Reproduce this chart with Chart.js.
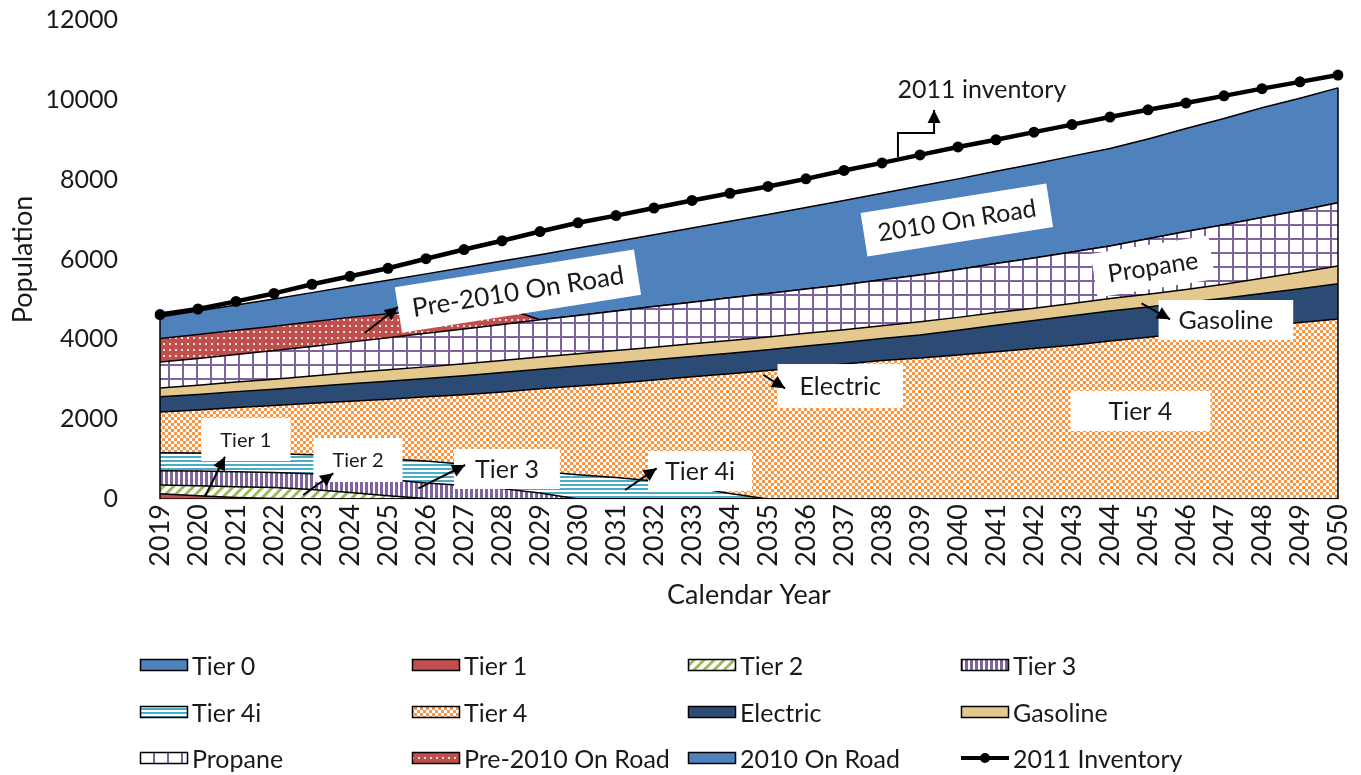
<!DOCTYPE html>
<html><head><meta charset="utf-8">
<script src="https://cdn.jsdelivr.net/npm/chart.js@4.4.1/dist/chart.umd.min.js"></script>
<style>
html,body{margin:0;padding:0;background:#fff;}
#wrap{position:relative;width:1361px;height:775px;overflow:hidden;}
#c{position:absolute;left:0;top:0;}
#legend{position:absolute;left:0;top:0;width:1361px;height:775px;pointer-events:none;font-family:Lato,"Noto Sans",sans-serif;font-size:25px;color:#1a1a1a;}
.item{position:absolute;display:flex;align-items:center;height:30px;white-space:nowrap;}
.item canvas{margin-right:3px;display:block;}
</style></head>
<body><div id="wrap"><canvas id="c" width="1361" height="775"></canvas><div id="legend"></div></div>
<script>
const years = ['2019','2020','2021','2022','2023','2024','2025','2026','2027','2028','2029','2030','2031','2032','2033','2034','2035','2036','2037','2038','2039','2040','2041','2042','2043','2044','2045','2046','2047','2048','2049','2050'];
const yTicks = [0,2000,4000,6000,8000,10000,12000];
const tier0 = [0,0,0,0,0,0,0,0,0,0,0,0,0,0,0,0,0,0,0,0,0,0,0,0,0,0,0,0,0,0,0,0];
const tier1 = [130,80,40,10,0,0,0,0,0,0,0,0,0,0,0,0,0,0,0,0,0,0,0,0,0,0,0,0,0,0,0,0];
const tier2 = [220,250,270,280,240,160,80,10,0,0,0,0,0,0,0,0,0,0,0,0,0,0,0,0,0,0,0,0,0,0,0,0];
const tier3 = [360,370,370,375,390,410,410,390,340,260,150,0,0,0,0,0,0,0,0,0,0,0,0,0,0,0,0,0,0,0,0,0];
const tier4i = [450,455,465,470,480,490,510,550,530,520,540,610,540,450,300,140,0,0,0,0,0,0,0,0,0,0,0,0,0,0,0,0];
const tier4 = [1020,1075,1145,1205,1290,1390,1500,1610,1740,1900,2070,2220,2360,2530,2760,3000,3220,3300,3380,3470,3530,3610,3690,3770,3850,3960,4050,4150,4240,4330,4420,4510];
const electric = [380,390,400,410,420,440,450,460,480,490,490,500,510,510,510,510,520,530,540,550,580,620,660,700,740,750,760,770,790,820,850,880];
const gasoline = [220,230,240,250,260,270,290,290,300,300,310,310,310,310,320,320,320,320,320,320,330,320,320,310,310,310,320,330,350,380,410,450];
const propane = [650,670,690,720,740,770,800,840,870,900,930,960,990,1020,1040,1070,1090,1110,1130,1150,1170,1200,1230,1260,1290,1320,1390,1450,1490,1520,1550,1580];
const pre2010OnRoad = [590,600,610,610,620,620,600,560,510,440,0,0,0,0,0,0,0,0,0,0,0,0,0,0,0,0,0,0,0,0,0,0];
const onRoad2010 = [540,590,630,680,730,780,840,930,1030,1150,1630,1690,1740,1800,1860,1920,1980,2040,2110,2170,2230,2270,2310,2350,2400,2440,2500,2580,2660,2750,2810,2880];
const inventory2011 = [4620,4760,4950,5150,5380,5580,5780,6020,6250,6470,6700,6920,7100,7290,7480,7660,7830,8020,8230,8420,8620,8820,9000,9190,9380,9570,9750,9920,10100,10280,10450,10620];

const FONT = 'Lato, "Noto Sans", sans-serif';
const TEXT = '#1a1a1a';

function tile(w,h,fn){const c=document.createElement('canvas');c.width=w;c.height=h;const g=c.getContext('2d');fn(g,w,h);return c;}
const tiles = {
  diag: tile(10,10,(g)=>{g.fillStyle='#fff';g.fillRect(0,0,10,10);g.strokeStyle='#9BBB59';g.lineWidth=3;g.beginPath();g.moveTo(-2,12);g.lineTo(12,-2);g.moveTo(-7,7);g.lineTo(7,-7);g.moveTo(3,17);g.lineTo(17,3);g.stroke();}),
  vlines: tile(5,5,(g)=>{g.fillStyle='#fff';g.fillRect(0,0,5,5);g.fillStyle='#8064A2';g.fillRect(0,0,3,5);}),
  hlines: tile(4,4,(g)=>{g.fillStyle='#fff';g.fillRect(0,0,4,4);g.fillStyle='#4BACC6';g.fillRect(0,0,4,2);}),
  check: tile(6,6,(g)=>{g.fillStyle='#fff';g.fillRect(0,0,6,6);g.fillStyle='#F79646';g.fillRect(0,0,3,3);g.fillRect(3,3,3,3);}),
  grid: tile(14,14,(g)=>{g.fillStyle='#fff';g.fillRect(0,0,14,14);g.fillStyle='#7F62A0';g.fillRect(0,0,2,14);g.fillRect(0,0,14,2);}),
  dots: tile(6,6,(g)=>{g.fillStyle='#C0504D';g.fillRect(0,0,6,6);g.fillStyle='#f4dcdc';g.fillRect(1,1,2,2);})
};
const fillDefs = {
  'Tier 0':'#4F81BD','Tier 1':'#C0504D','Tier 2':'diag','Tier 3':'vlines','Tier 4i':'hlines','Tier 4':'check',
  'Electric':'#2C4B74','Gasoline':'#E5C88D','Propane':'grid','Pre-2010 On Road':'dots','2010 On Road':'#4F81BD'
};
function styleFor(g,name){const d=fillDefs[name];return tiles[d]?g.createPattern(tiles[d],'repeat'):d;}

const canvas = document.getElementById('c');
const ctx = canvas.getContext('2d');

const stackSeries = [
  ['Tier 0',tier0],['Tier 1',tier1],['Tier 2',tier2],['Tier 3',tier3],['Tier 4i',tier4i],['Tier 4',tier4],
  ['Electric',electric],['Gasoline',gasoline],['Propane',propane],['Pre-2010 On Road',pre2010OnRoad],['2010 On Road',onRoad2010]
];
const datasets = stackSeries.map(([name,vals],i)=>({
  label:name,data:vals,stack:'pop',fill:i===0?'origin':'-1',backgroundColor:styleFor(ctx,name),
  borderColor:'#000',borderWidth:1.5,pointRadius:0,tension:0,order:0
}));
datasets.push({label:'2011 Inventory',data:inventory2011,stack:'inv',fill:false,borderColor:'#000',borderWidth:4.5,
  pointRadius:5.5,pointBackgroundColor:'#000',pointBorderColor:'#000',pointBorderWidth:0,tension:0,order:-1});

// annotation boxes (x = fractional category index, y = value)
const notes = [
  {t:'2011 inventory',x:21.63,y:10270,size:25,rot:0,box:false},
  {t:'2010 On Road',x:20.97,y:6990,size:25,rot:-9,padX:14,h:44},
  {t:'Pre-2010 On Road',x:9.42,y:5210,size:26,rot:-9,padX:14,h:46},
  {t:'Propane',x:26.13,y:5824,size:25,rot:-9,padX:14,h:44},
  {t:'Gasoline',x:28.05,y:4484,size:25,rot:0,padX:20,h:40},
  {t:'Electric',x:17.9,y:2830,size:25,rot:0,padX:22,h:44},
  {t:'Tier 4',x:25.8,y:2205,size:25,rot:0,padX:38,h:40},
  {t:'Tier 1',x:2.26,y:1490,size:20,rot:0,padX:19,h:43},
  {t:'Tier 2',x:5.21,y:977,size:20,rot:0,padX:19,h:44},
  {t:'Tier 3',x:9.13,y:752,size:25,rot:0,padX:21,h:40},
  {t:'Tier 4i',x:14.21,y:700,size:25,rot:0,padX:17,h:40}
];
const arrows = [
  [[5.39,4160],[6.26,4810]],
  [[25.83,4902],[26.58,4502]],
  [[15.88,3106],[16.45,2773]],
  [[1.18,58],[1.71,1060]],
  [[3.77,100],[4.56,644]],
  [[6.8,268],[8.03,852]],
  [[12.24,225],[13.07,769]],
  [[19.42,8567],[19.42,9168],[20.37,9168],[20.37,9744]]
];

const annotate = {
  id:'annotate',
  afterDatasetsDraw(chart){
    const g = chart.ctx, xs = chart.scales.x, ys = chart.scales.y;
    const top = chart.getDatasetMeta(stackSeries.length-1).data;
    g.save();g.strokeStyle='#000';g.lineWidth=1.5;
    [0,top.length-1].forEach(i=>{g.beginPath();g.moveTo(top[i].x,ys.getPixelForValue(0));g.lineTo(top[i].x,top[i].y);g.stroke();});
    g.restore();
    notes.forEach(n=>{
      const px = xs.getPixelForValue(n.x), py = ys.getPixelForValue(n.y);
      g.save();g.translate(px,py);g.rotate(n.rot*Math.PI/180);
      g.font = n.size+'px '+FONT;
      const w = g.measureText(n.t).width;
      if(n.box!==false){g.fillStyle='#fff';g.fillRect(-w/2-n.padX,-n.h/2,w+2*n.padX,n.h);}
      g.fillStyle=TEXT;g.textAlign='center';g.textBaseline='middle';g.fillText(n.t,0,1);
      g.restore();
    });
    arrows.forEach(a=>{
      const pts = a.map(p=>[xs.getPixelForValue(p[0]),ys.getPixelForValue(p[1])]);
      g.save();g.strokeStyle='#000';g.fillStyle='#000';g.lineWidth=2;
      g.beginPath();g.moveTo(pts[0][0],pts[0][1]);
      for(let i=1;i<pts.length;i++)g.lineTo(pts[i][0],pts[i][1]);
      const [x1,y1]=pts[pts.length-2],[x2,y2]=pts[pts.length-1];
      const ang=Math.atan2(y2-y1,x2-x1),L=13,W=6.5;
      const bx=x2-L*Math.cos(ang),by=y2-L*Math.sin(ang);
      g.stroke();
      g.beginPath();g.moveTo(x2,y2);
      g.lineTo(bx+W*Math.sin(ang),by-W*Math.cos(ang));
      g.lineTo(bx-W*Math.sin(ang),by+W*Math.cos(ang));
      g.closePath();g.fill();g.restore();
    });
  }
};

new Chart(ctx,{
  type:'line',
  data:{labels:years,datasets},
  options:{
    responsive:false,animation:false,devicePixelRatio:1,
    layout:{padding:{left:0,top:20,right:23,bottom:164}},
    plugins:{legend:{display:false},tooltip:{enabled:false}},
    elements:{line:{borderJoinStyle:'round'}},
    scales:{
      x:{type:'category',offset:false,
        grid:{display:false,drawTicks:false},
        border:{display:true,color:'#d9d9d9',width:1.5},
        ticks:{autoSkip:false,minRotation:90,maxRotation:90,padding:5,color:TEXT,font:{family:FONT,size:27}},
        title:{display:true,text:'Calendar Year',color:TEXT,font:{family:FONT,size:27},padding:{top:0,bottom:0}},
        afterFit(s){s.height=112;s.paddingLeft=0;s.paddingRight=0;}
      },
      y:{stacked:true,min:0,max:12000,
        grid:{display:false,drawTicks:false},border:{display:false},
        afterBuildTicks(s){s.ticks=yTicks.map(v=>({value:v}));},
        ticks:{padding:42,color:TEXT,font:{family:FONT,size:25},callback:(v)=>String(v)},
        title:{display:true,text:'Population',color:TEXT,font:{family:FONT,size:27},padding:{top:7,bottom:0}},
        afterFit(s){s.width=160;s.paddingTop=14;s.paddingBottom=14;}
      }
    }
  },
  plugins:[annotate]
});

// legend
const legendItems = [
  ['Tier 0',0,0],['Tier 1',1,0],['Tier 2',2,0],['Tier 3',3,0],
  ['Tier 4i',0,1],['Tier 4',1,1],['Electric',2,1],['Gasoline',3,1],
  ['Propane',0,2],['Pre-2010 On Road',1,2],['2010 On Road',2,2],['2011 Inventory',3,2]
];
const colX = [139,411,687,960], rowY = [665,712,758];
const lg = document.getElementById('legend');
legendItems.forEach(([name,c,r])=>{
  const d=document.createElement('div');d.className='item';
  d.style.left=colX[c]+'px';d.style.top=(rowY[r]-15)+'px';
  const sw=document.createElement('canvas');sw.width=50;sw.height=16;
  const g=sw.getContext('2d');
  if(name==='2011 Inventory'){
    g.strokeStyle='#000';g.lineWidth=4;g.beginPath();g.moveTo(1,8);g.lineTo(49,8);g.stroke();
    g.fillStyle='#000';g.beginPath();g.arc(25,8,5,0,Math.PI*2);g.fill();
  }else{
    g.fillStyle=styleFor(g,name);g.fillRect(1,2,48,12);
    g.strokeStyle='#000';g.lineWidth=1.5;g.strokeRect(1.5,2.5,47,11);
  }
  d.appendChild(sw);
  const s=document.createElement('span');s.textContent=name;d.appendChild(s);
  lg.appendChild(d);
});
</script>
</body></html>
